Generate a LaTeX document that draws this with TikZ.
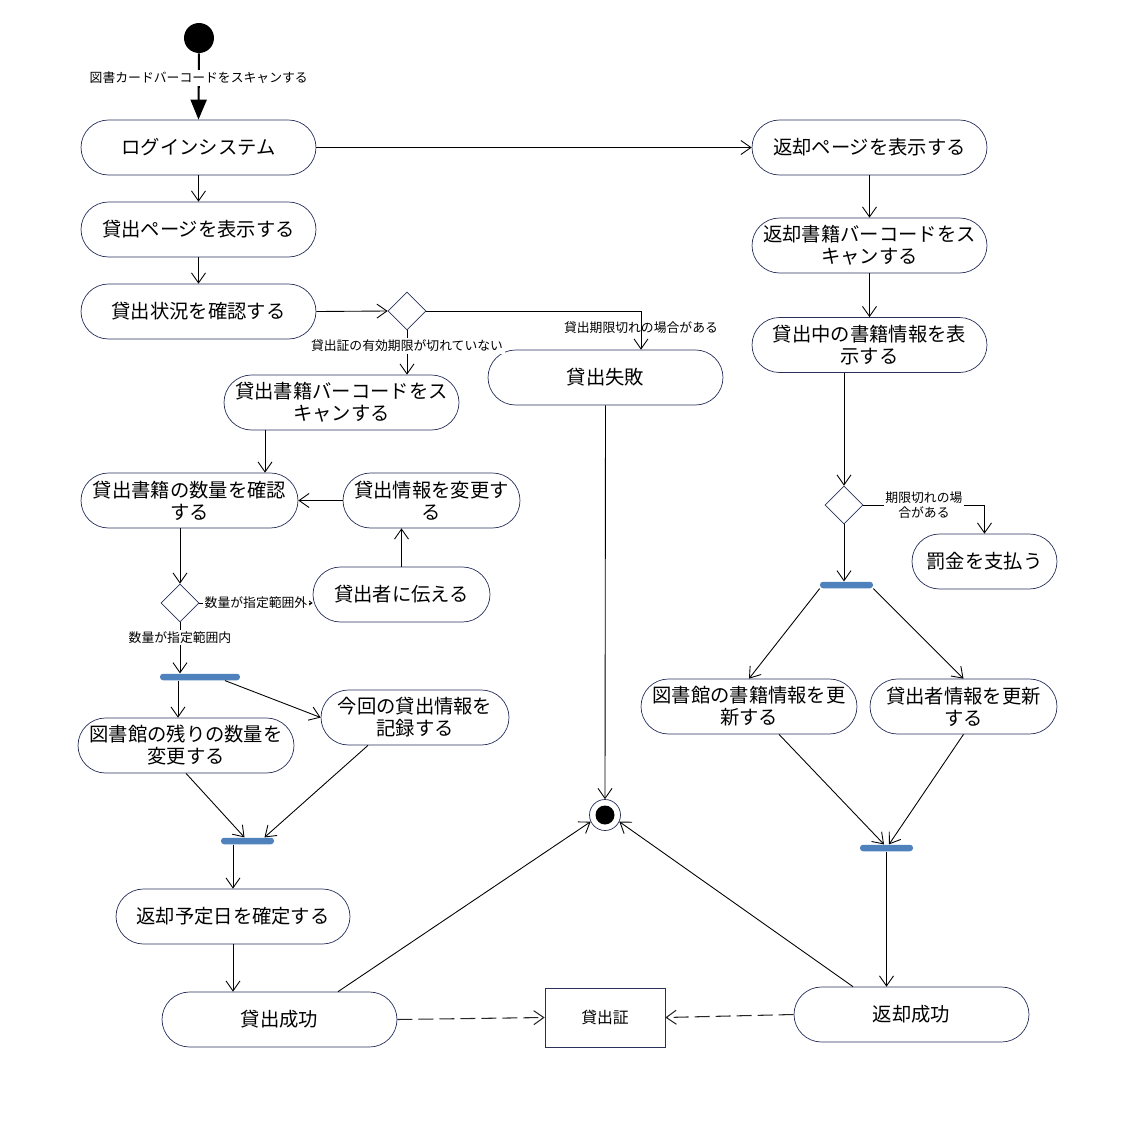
\documentclass[tikz,border=0pt]{standalone}
\usepackage{fontspec}
\newfontfamily\jp{Noto Sans CJK JP}
\usepackage{tikz}
\usetikzlibrary{shapes.geometric}
\usetikzlibrary{arrows.meta}
\definecolor{edgenavy}{RGB}{40,48,90}
\definecolor{barblue}{RGB}{79,129,189}

\begin{document}
\begin{tikzpicture}[x=0.02cm,y=-0.02cm,
	act/.style={draw=edgenavy, rounded corners=0.55cm, minimum height=1.1cm, align=center, inner sep=1pt, font=\jp\fontsize{11}{12.5}\selectfont},
	choice/.style={diamond, draw=edgenavy, minimum width=0.76cm, minimum height=0.76cm, inner sep=0pt},
	bar/.style={fill=barblue, rounded corners=0.06cm, minimum height=0.13cm, inner sep=0pt},
	lbl/.style={font=\jp\fontsize{7.3}{8.8}\selectfont, inner sep=1pt, align=center},
	flow/.style={-{Straight Barb[length=2mm,width=2.8mm]}, line width=0.5pt},
	dep/.style={flow, draw=black!85, line width=0.6pt, dash pattern=on 3mm off 1.2mm}]
	\useasboundingbox (0,0) rectangle (1123,1123);

	\node [circle,fill=black,minimum size=0.6cm,inner sep=0pt] (start) at (199,38) {};
	\node [act,minimum width=4.7cm] (login) at (198.5,147.5) {ログインシステム};
	\node [act,minimum width=4.7cm] (lendpage) at (198.5,229.5) {貸出ページを表示する};
	\node [act,minimum width=4.7cm] (lendstate) at (198.5,311.5) {貸出状況を確認する};
	\node [choice] (cardok) at (407,311) {};
	\node [act,minimum width=4.7cm] (lendscan) at (341.5,402.5) {貸出書籍バーコードをス\\キャンする};
	\node [act,minimum width=4.7cm] (lendfail) at (605.5,377.5) {貸出失敗};
	\node [act,minimum width=4.34cm] (qtycheck) at (189.5,500.5) {貸出書籍の数量を確認\\する};
	\node [act,minimum width=3.54cm] (infochange) at (431.5,500.5) {貸出情報を変更す\\る};
	\node [choice] (qtyok) at (180,603) {};
	\node [act,minimum width=3.54cm] (tellborrower) at (401.5,594.5) {貸出者に伝える};
	\node [bar,minimum width=1.6cm] (forkA) at (200,677) {};
	\node [act,minimum width=4.32cm] (stockchange) at (186,745.5) {図書館の残りの数量を\\変更する};
	\node [act,minimum width=3.76cm] (lendrecord) at (415,717.5) {今回の貸出情報を\\記録する};
	\node [bar,minimum width=1.06cm] (joinA) at (247.5,841) {};
	\node [act,minimum width=4.68cm] (duedate) at (233,916.5) {返却予定日を確定する};
	\node [act,minimum width=4.7cm] (lendok) at (279.5,1019.5) {貸出成功};
	\node [draw=edgenavy,minimum width=2.4cm,minimum height=1.18cm,font=\jp\fontsize{9}{10}\selectfont] (libcard) at (605,1017.5) {貸出証};
	\node [circle,draw=edgenavy,fill=white,minimum size=0.62cm,inner sep=0pt] (final) at (605,815) {};
	\fill (final.center) circle (0.19cm);

	\node [act,minimum width=4.7cm] (retpage) at (869.5,147.5) {返却ページを表示する};
	\node [act,minimum width=4.7cm] (retscan) at (869.5,245.5) {返却書籍バーコードをス\\キャンする};
	\node [act,minimum width=4.7cm] (lendinfo) at (869.5,345) {貸出中の書籍情報を表\\示する};
	\node [choice] (overdue) at (844,505) {};
	\node [act,minimum width=2.9cm] (payfine) at (984.5,561.5) {罰金を支払う};
	\node [bar,minimum width=1.06cm] (forkB) at (846.5,585) {};
	\node [act,minimum width=4.32cm] (libupdate) at (749,706.5) {図書館の書籍情報を更\\新する};
	\node [act,minimum width=3.74cm] (borrowerupdate) at (963.5,706.5) {貸出者情報を更新\\する};
	\node [bar,minimum width=1.06cm] (joinB) at (886.5,848) {};
	\node [act,minimum width=4.7cm] (retok) at (911.5,1014.5) {返却成功};

	\draw [line width=1.2pt,-{Triangle[length=4mm,width=3.2mm]}] (start) -- node [lbl,fill=white,pos=0.37] {図書カードバーコードをスキャンする} (login.north);
	\draw [flow] (login.east) -- (retpage.west);
	\draw [flow] (login) -- (lendpage);
	\draw [flow] (lendpage) -- (lendstate);
	\draw [flow] (lendstate.east) -- (cardok.west);
	\draw [flow] (cardok.south) -- node [lbl,fill=white,pos=0.35] {貸出証の有効期限が切れていない} (cardok.south |- lendscan.north);
	\draw [flow] (cardok.east) -| node [lbl,pos=0.72] {貸出期限切れの場合がある} ([xshift=0.71cm]lendfail.north);
	\draw [flow] ([xshift=-1.53cm]lendscan.south) -- ([xshift=-1.53cm]lendscan.south |- qtycheck.north);
	\draw [flow] (qtyok |- qtycheck.south) -- (qtyok.north);
	\draw [flow] (qtyok.east) -- node [lbl,fill=white] {数量が指定範囲外} (tellborrower.west |- qtyok);
	\draw [flow] (tellborrower.north) -- (tellborrower.north |- infochange.south);
	\draw [flow] (infochange.west) -- (qtycheck.east);
	\draw [flow] (qtyok.south) -- node [lbl,fill=white,pos=0.3] {数量が指定範囲内} (qtyok |- forkA.north);
	\draw [flow] ([xshift=-0.44cm]forkA.south) -- ([xshift=-0.44cm]forkA.south |- stockchange.north);
	\draw [flow] ([xshift=0.5cm]forkA.south) -- (lendrecord.west);
	\draw [flow] (stockchange.south) -- ([xshift=-0.06cm]joinA.north);
	\draw [flow] ([xshift=-0.94cm]lendrecord.south) -- ([xshift=0.34cm]joinA.north);
	\draw [flow] (duedate.north |- joinA.south) -- (duedate.north);
	\draw [flow] (duedate.south) -- (duedate.south |- lendok.north);
	\draw [flow] ([xshift=1.17cm]lendok.north) -- (final.205);
	\draw [flow] (lendfail.south) -- (final.north);
	\draw [flow] ([xshift=-1.17cm]retok.north) -- (final.335);
	\draw [dep] (lendok.east) -- (libcard.west);
	\draw [dep] (retok.west) -- (libcard.east);

	\draw [flow] (retpage) -- (retscan);
	\draw [flow] (retscan) -- (lendinfo);
	\draw [flow] (overdue |- lendinfo.south) -- (overdue.north);
	\draw [flow] (overdue.east) -| node [lbl,fill=white,pos=0.25] {期限切れの場\\合がある} (payfine.north);
	\draw [flow] (overdue.south) -- (overdue |- forkB.north);
	\draw [flow] (forkB.south west) -- (libupdate.north);
	\draw [flow] (forkB.south east) -- (borrowerupdate.north);
	\draw [flow] ([xshift=0.6cm]libupdate.south) -- ([xshift=-0.05cm]joinB.north);
	\draw [flow] (borrowerupdate.south) -- ([xshift=0.05cm]joinB.north);
	\draw [flow] (joinB.south) -- (joinB.south |- retok.north);
\end{tikzpicture}
\end{document}
